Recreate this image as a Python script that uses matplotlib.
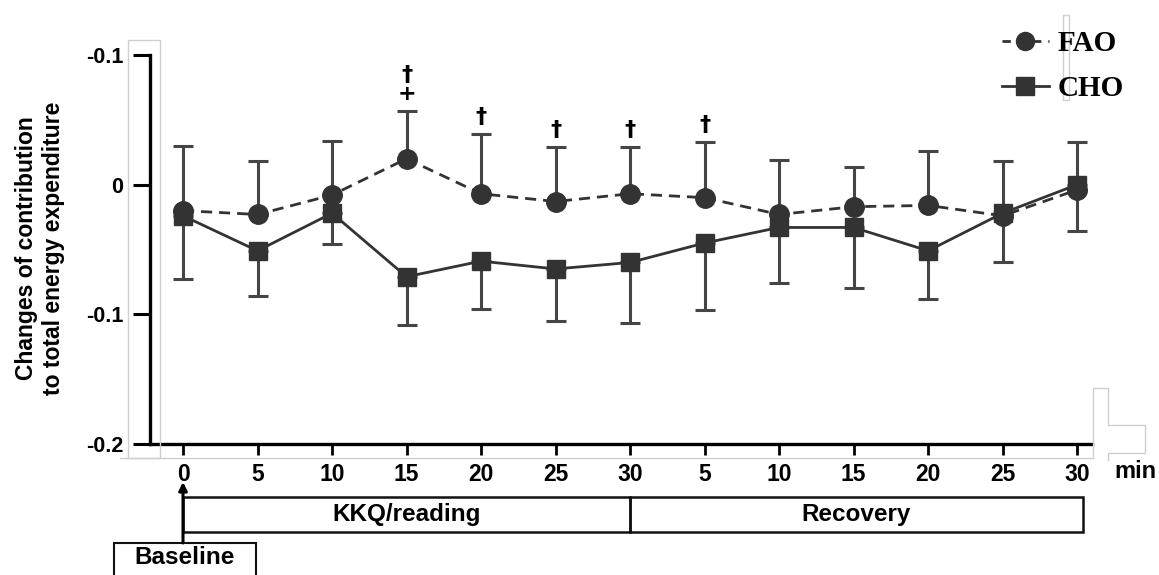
import numpy as np
import matplotlib
matplotlib.use("Agg")
import matplotlib.pyplot as plt
from matplotlib.lines import Line2D
from matplotlib.patches import Rectangle, FancyArrowPatch
from matplotlib.transforms import blended_transform_factory

# ---- data ----
x_labels = ['0', '5', '10', '15', '20', '25', '30', '5', '10', '15', '20', '25', '30']
fao = [-0.020, -0.023, -0.008, 0.020, -0.007, -0.013, -0.007, -0.010, -0.023, -0.017, -0.016, -0.024, -0.004]
fao_sd = [0.050, 0.041, 0.042, 0.037, 0.046, 0.042, 0.036, 0.043, 0.042, 0.031, 0.042, 0.042, 0.037]
cho = [-0.024, -0.051, -0.022, -0.071, -0.059, -0.065, -0.060, -0.045, -0.033, -0.033, -0.051, -0.022, 0.000]
cho_sd = [0.049, 0.035, 0.024, 0.037, 0.037, 0.040, 0.047, 0.052, 0.043, 0.047, 0.037, 0.038, 0.036]
sig = ['', '', '', '\u2020\n+', '\u2020', '\u2020', '\u2020', '\u2020', '', '', '', '', '']
y_ticks = [0.1, 0.0, -0.1, -0.2]
y_tick_labels = ['-0.1', '0', '-0.1', '-0.2']
phases = ['KKQ/reading', 'Recovery']
series_names = ['FAO', 'CHO']

W, H = 1159, 575
fig = plt.figure(figsize=(W / 100, H / 100), dpi=100)
fx = lambda px: px / W
fy = lambda py: 1 - py / H

ax = fig.add_axes([fx(150), fy(444), fx(1092) - fx(150), fy(55) - fy(444)])
x = np.arange(len(x_labels))
dark = '#333333'
ebc = '#454545'

fao = np.array(fao); cho = np.array(cho)
fao_sd = np.array(fao_sd); cho_sd = np.array(cho_sd)

ax.errorbar(x, fao, yerr=[np.zeros_like(fao_sd), fao_sd], fmt='none', ecolor=ebc,
            elinewidth=2.2, capsize=7, capthick=2.2, zorder=2)
ax.errorbar(x, cho, yerr=[cho_sd, np.zeros_like(cho_sd)], fmt='none', ecolor=ebc,
            elinewidth=2.2, capsize=7, capthick=2.2, zorder=2)
ax.plot(x, fao, color=dark, lw=2, dashes=(4, 2.5), marker='o', ms=14, zorder=3)
ax.plot(x, cho, color=dark, lw=2, marker='s', ms=13.5, zorder=4)

for xi, top, s in zip(x, fao + fao_sd, sig):
    if s:
        ax.annotate(s, (xi, top), xytext=(0, 5), textcoords='offset points',
                    ha='center', va='bottom', fontsize=16, fontweight='bold',
                    family='DejaVu Sans', linespacing=0.95)

ax.set_xlim(-0.443, 12.2)
ax.set_ylim(-0.2, 0.1)
ax.set_xticks(x)
ax.set_xticklabels(x_labels)
ax.set_yticks(y_ticks)
ax.set_yticklabels(y_tick_labels)
for lab in ax.get_xticklabels():
    lab.set_fontfamily('Liberation Sans'); lab.set_fontweight('bold'); lab.set_fontsize(16.5)
for lab in ax.get_yticklabels():
    lab.set_fontfamily('Liberation Sans'); lab.set_fontweight('bold'); lab.set_fontsize(15.5)
ax.tick_params(axis='x', length=8, width=2, pad=6, color='black')
ax.tick_params(axis='y', length=12, width=2.2, pad=7, color='black')
for sp in ['top', 'right']:
    ax.spines[sp].set_visible(False)
for sp in ['left', 'bottom']:
    ax.spines[sp].set_linewidth(2.4)
    ax.spines[sp].set_color('black')

fig.text(fx(40), fy(248), 'Changes of contribution\nto total energy expenditure', rotation=90,
         ha='center', va='center', multialignment='center', fontsize=16.5, fontweight='bold',
         family='Liberation Sans', linespacing=1.2)
fig.text(fx(1135), fy(472), 'min', ha='center', va='center', fontsize=17, fontweight='bold',
         family='Liberation Sans')

# legend
handles = [Line2D([], [], color=dark, lw=2, dashes=(3, 2.5), marker='o', ms=13),
           Line2D([], [], color=dark, lw=2, marker='s', ms=12.5)]
fig.legend(handles, series_names, loc='upper left', bbox_to_anchor=(fx(1002), fy(30)),
           frameon=False, borderpad=0, borderaxespad=0, handlelength=1.6, handletextpad=0.3,
           labelspacing=0.62, prop={'family': 'Liberation Serif', 'weight': 'bold', 'size': 21})

# bottom phase boxes
tr = blended_transform_factory(ax.transData, fig.transFigure)
box_top, box_bot = fy(497), fy(532)
for (x0, x1), name in zip([(0, 6), (6, 12.08)], phases):
    ax.add_patch(Rectangle((x0, box_bot), x1 - x0, box_top - box_bot, transform=tr, fill=False,
                           ec='#111111', lw=1.8, clip_on=False))
    ax.text((x0 + x1) / 2, (box_top + box_bot) / 2, name, transform=tr, ha='center', va='center',
            fontsize=17.5, fontweight='bold', family='Liberation Sans', clip_on=False)
ax.add_patch(Rectangle((-0.93, fy(600)), 1.91, fy(543) - fy(600), transform=tr, fill=False,
                       ec='#111111', lw=1.5, clip_on=False))
ax.text(0.02, fy(558), 'Baseline', transform=tr, ha='center', va='center', fontsize=17.5,
        fontweight='bold', family='Liberation Sans', clip_on=False)
ax.add_patch(FancyArrowPatch((0, fy(543)), (0, fy(482)), transform=tr, arrowstyle='-|>',
                             mutation_scale=12, lw=2.2, color='black', clip_on=False,
                             shrinkA=0, shrinkB=0))

# light grey scan artefacts
g = '#cfcfcf'
fig.add_artist(Rectangle((fx(128), fy(458)), fx(160) - fx(128), fy(40) - fy(458),
                         transform=fig.transFigure, fill=False, ec=g, lw=1))
fig.add_artist(Line2D([fx(120), fx(1093)], [fy(458), fy(458)], transform=fig.transFigure, color=g, lw=1))
px = [1093, 1093, 1108, 1108, 1145, 1145, 1108, 1108]
py = [458, 388, 388, 425, 425, 453, 453, 460]
fig.add_artist(Line2D([fx(p) for p in px], [fy(p) for p in py], transform=fig.transFigure, color=g, lw=1))
fig.add_artist(Rectangle((fx(1063), fy(100)), fx(1069) - fx(1063), fy(15) - fy(100),
                         transform=fig.transFigure, fill=False, ec=g, lw=1))

fig.savefig('out.png', dpi=100)
